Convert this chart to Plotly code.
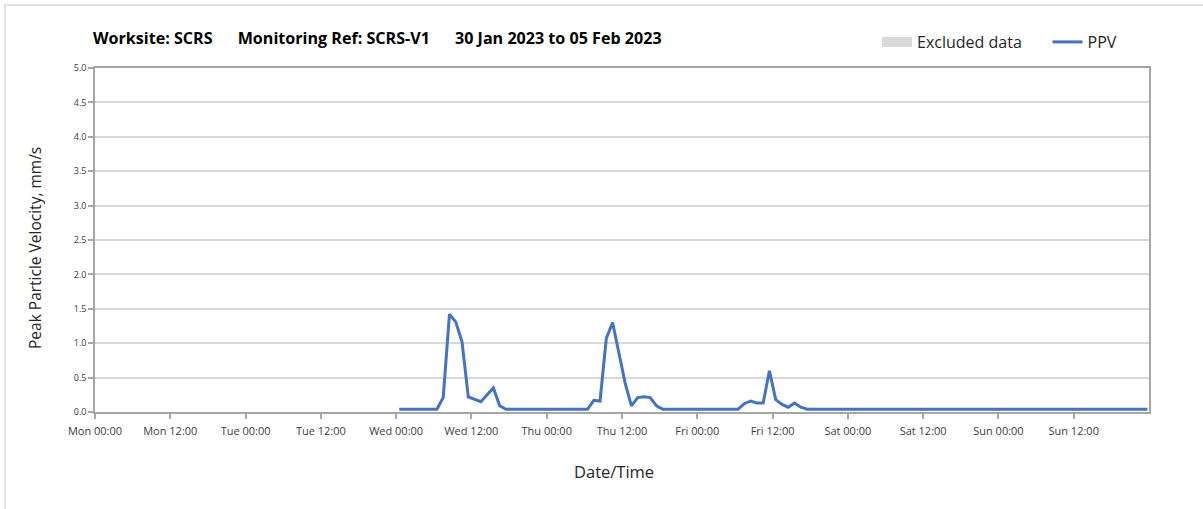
import plotly.graph_objects as go

# ---- data ----
ppv_times = [
    "2023-02-01 00:30", "2023-02-01 06:30", "2023-02-01 07:30", "2023-02-01 08:30",
    "2023-02-01 09:30", "2023-02-01 10:30", "2023-02-01 11:30", "2023-02-01 12:30",
    "2023-02-01 13:30", "2023-02-01 14:30", "2023-02-01 15:30", "2023-02-01 16:30",
    "2023-02-01 17:30",
    "2023-02-02 06:30", "2023-02-02 07:30", "2023-02-02 08:30", "2023-02-02 09:30",
    "2023-02-02 10:30", "2023-02-02 11:30", "2023-02-02 12:30", "2023-02-02 13:30",
    "2023-02-02 14:30", "2023-02-02 15:30", "2023-02-02 16:30", "2023-02-02 17:30",
    "2023-02-02 18:30",
    "2023-02-03 06:30", "2023-02-03 07:30", "2023-02-03 08:30", "2023-02-03 09:30",
    "2023-02-03 10:30", "2023-02-03 11:30", "2023-02-03 12:30", "2023-02-03 13:30",
    "2023-02-03 14:30", "2023-02-03 15:30", "2023-02-03 16:30", "2023-02-03 17:30",
    "2023-02-05 23:45",
]
ppv_values = [
    0.04, 0.04, 0.21, 1.42,
    1.31, 1.02, 0.22, 0.19,
    0.15, 0.25, 0.35, 0.09,
    0.04,
    0.04, 0.17, 0.16, 1.07,
    1.30, 0.85, 0.42, 0.09,
    0.21, 0.22, 0.21, 0.09,
    0.04,
    0.04, 0.12, 0.16, 0.13,
    0.13, 0.60, 0.18, 0.11,
    0.07, 0.13, 0.07, 0.04,
    0.04,
]
x_tick_vals = [
    "2023-01-30 00:00", "2023-01-30 12:00", "2023-01-31 00:00", "2023-01-31 12:00",
    "2023-02-01 00:00", "2023-02-01 12:00", "2023-02-02 00:00", "2023-02-02 12:00",
    "2023-02-03 00:00", "2023-02-03 12:00", "2023-02-04 00:00", "2023-02-04 12:00",
    "2023-02-05 00:00", "2023-02-05 12:00",
]
x_range = ["2023-01-30 00:00", "2023-02-06 00:00"]
y_range = [0, 5]
NB = "\u00a0"
title_text = ("Worksite: SCRS" + NB * 6 + "Monitoring Ref: SCRS-V1" + NB * 6
              + "30 Jan 2023 to 05 Feb 2023")
legend_names = ["Excluded data" + NB * 5, "PPV"]
y_title = "Peak Particle Velocity, mm/s"
x_title = "Date/Time"

FONT = "'Open Sans', Lato, sans-serif"
GRID = "#D9D9D9"
AXIS = "#A6A6A6"
TICKC = "#404040"

fig = go.Figure()
fig.add_trace(go.Scatter(
    x=[None], y=[None], mode="lines", name=legend_names[0],
    line=dict(color="#D9D9D9", width=10), showlegend=True,
))
fig.add_trace(go.Scatter(
    x=ppv_times, y=ppv_values, mode="lines", name=legend_names[1],
    line=dict(color="#4472C4", width=3),
))

L, R, T, B = 95, 54, 68, 97
W, H = 1203, 509
pw, ph = W - L - R, H - T - B

def px_x(p):
    return (p - L) / pw

def px_y(p):
    return (H - B - p) / ph

fig.update_layout(
    width=W, height=H,
    margin=dict(l=L, r=R, t=T, b=B, autoexpand=False),
    paper_bgcolor="white", plot_bgcolor="white",
    font=dict(family=FONT, color="#262626"),
    title=dict(text=f"<b>{title_text}</b>", x=93 / W, xanchor="left", xref="container",
               y=1 - 38 / H, yanchor="middle", yref="container",
               font=dict(size=16.1, color="#000000", family=FONT)),
    legend=dict(orientation="h", x=px_x(1122), xanchor="right",
                y=px_y(42), yanchor="middle",
                font=dict(size=16, color="#262626", family=FONT),
                itemwidth=30, tracegroupgap=0, bgcolor="rgba(0,0,0,0)"),
    xaxis=dict(
        type="date", range=x_range, tickvals=x_tick_vals,
        tickformat="%a %H:%M", showgrid=False, zeroline=False,
        ticks="outside", ticklen=5, tickcolor=AXIS, tickwidth=1.5,
        showline=True, linecolor=AXIS, linewidth=1.5, mirror=True,
        tickfont=dict(size=11, color=TICKC, family=FONT), ticklabelstandoff=3,
        fixedrange=True,
    ),
    xaxis2=dict(
        type="date", range=x_range, overlaying="x", matches="x", side="bottom",
        dtick=24 * 3600 * 1000, tick0="2023-01-30 00:00",
        showgrid=True, gridcolor=GRID, gridwidth=1.5,
        showticklabels=False, ticks="", showline=False, zeroline=False,
    ),
    yaxis=dict(
        range=y_range, dtick=0.5, tick0=0, tickformat=".1f",
        showgrid=True, gridcolor=GRID, gridwidth=1.5, zeroline=False,
        ticks="outside", ticklen=5, tickcolor=AXIS, tickwidth=1.5,
        showline=True, linecolor=AXIS, linewidth=1.5, mirror=True,
        tickfont=dict(size=9, color=TICKC, family=FONT),
        fixedrange=True,
    ),
    annotations=[
        dict(text=y_title, xref="paper", yref="paper", x=px_x(35), y=px_y(248),
             xanchor="center", yanchor="middle", textangle=-90, showarrow=False,
             font=dict(size=15.5, color="#262626", family=FONT)),
        dict(text=x_title, xref="paper", yref="paper", x=px_x(614), y=px_y(471),
             xanchor="center", yanchor="middle", showarrow=False,
             font=dict(size=16.5, color="#262626", family=FONT)),
    ],
    shapes=[dict(type="rect", xref="paper", yref="paper",
                 x0=px_x(5), x1=px_x(W + 20),
                 y0=px_y(H + 20), y1=px_y(5),
                 line=dict(color="#D9D9D9", width=1.5), fillcolor="rgba(0,0,0,0)",
                 layer="below")],
)

fig.write_html("out.html", config={"displayModeBar": False},
               post_script="document.body.style.margin='0';")
